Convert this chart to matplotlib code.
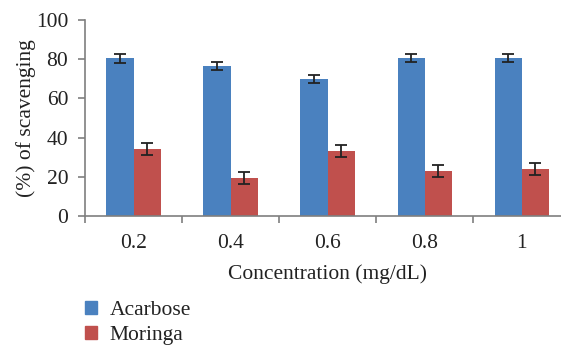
import numpy as np
import matplotlib.pyplot as plt
from matplotlib.patches import Patch

conc = ["0.2", "0.4", "0.6", "0.8", "1"]
acarbose = [80.5, 76.5, 69.9, 80.6, 80.6]
acarbose_err = [2.2, 2.2, 2.2, 2.2, 2.2]
moringa = [34.2, 19.3, 33.2, 23.0, 24.0]
moringa_err = [3.0, 3.0, 3.0, 3.0, 3.0]

blue = "#4A81BF"
red = "#C0504D"
axcol = "#7f7f7f"

plt.rcParams['font.family'] = ['Liberation Serif', 'DejaVu Serif']
plt.rcParams['font.size'] = 15.5
plt.rcParams['text.color'] = "#222222"
plt.rcParams['xtick.labelcolor'] = "#222222"
plt.rcParams['ytick.labelcolor'] = "#222222"
plt.rcParams['axes.labelcolor'] = "#222222"

fig = plt.figure(figsize=(5.61, 3.47), dpi=100)
ax = fig.add_axes([0.1515, 0.3775, 0.865, 0.5645])

x = np.arange(len(conc))
w = 0.28
ax.bar(x - w/2, acarbose, w, color=blue, yerr=acarbose_err,
       error_kw=dict(ecolor="#222222", elinewidth=1.3, capsize=4, capthick=1.3))
ax.bar(x + w/2, moringa, w, color=red, yerr=moringa_err,
       error_kw=dict(ecolor="#222222", elinewidth=1.3, capsize=4, capthick=1.3))

ax.set_xlim(-0.5, len(conc) - 0.5)
ax.set_ylim(0, 100)
ax.set_yticks(range(0, 101, 20))
ax.set_xticks(x)
ax.set_xticklabels(conc)
ax.set_xticks(np.arange(-0.5, len(conc), 1), minor=True)
ax.tick_params(axis='x', which='major', length=0, pad=13)
ax.tick_params(axis='x', which='minor', length=5, width=1.2, color=axcol)
ax.tick_params(axis='y', length=5, width=1.2, color=axcol, pad=7)

for s in ['top', 'right']:
    ax.spines[s].set_visible(False)
for s in ['left', 'bottom']:
    ax.spines[s].set_color(axcol)
    ax.spines[s].set_linewidth(1.2)

ax.set_ylabel("(%) of scavenging", labelpad=0)
ax.set_xlabel("Concentration (mg/dL)", labelpad=8)

handles = [Patch(color=blue, label="Acarbose"), Patch(color=red, label="Moringa")]
fig.legend(handles=handles, loc='upper left', bbox_to_anchor=(0.132, 0.163),
           frameon=False, handlelength=0.56, handleheight=0.56,
           handletextpad=0.6, labelspacing=0.25, borderpad=0)

fig.savefig("out.png", dpi=100)
